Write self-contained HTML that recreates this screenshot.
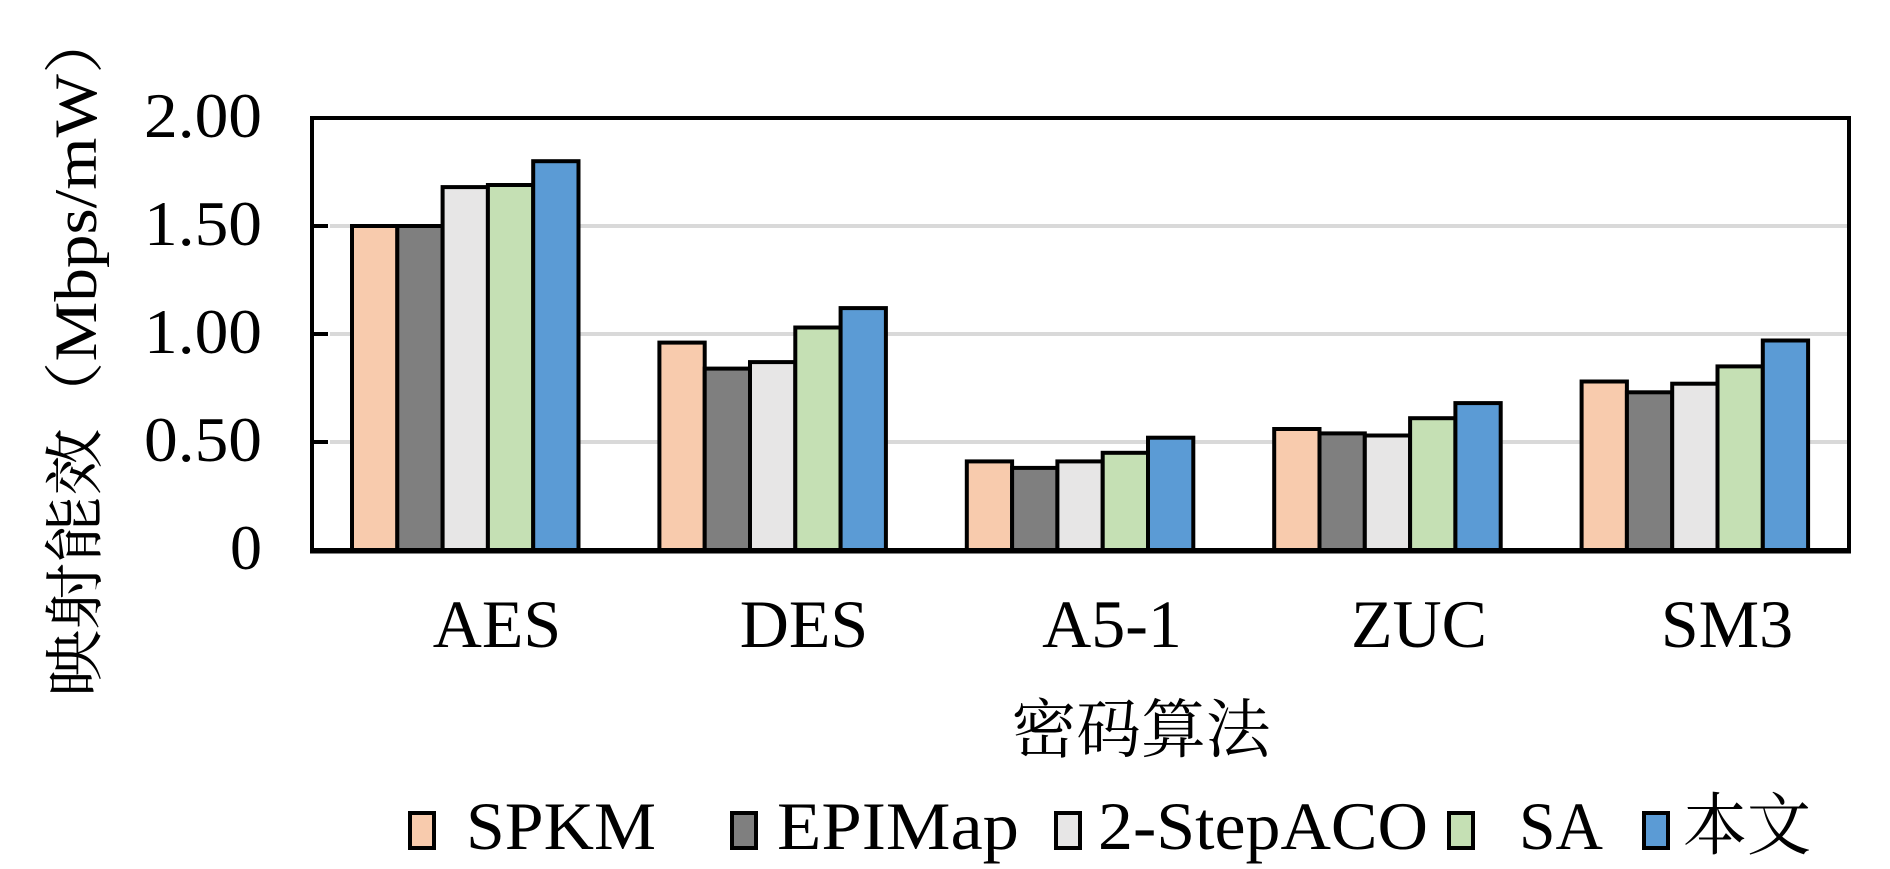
<!DOCTYPE html>
<html><head><meta charset="utf-8"><style>html,body{margin:0;padding:0;background:#fff}svg{display:block}</style></head>
<body>
<svg width="1890" height="869" viewBox="0 0 1890 869" xmlns="http://www.w3.org/2000/svg" font-family="'Liberation Serif','Noto Serif CJK SC',serif">
<g stroke="#d9d9d9" stroke-width="4">
<line x1="330" y1="226" x2="1847" y2="226"/>
<line x1="330" y1="334" x2="1847" y2="334"/>
<line x1="330" y1="442" x2="1847" y2="442"/>
</g>
<g stroke="#000" stroke-width="4">
<line x1="312" y1="226" x2="328" y2="226"/>
<line x1="312" y1="334" x2="328" y2="334"/>
<line x1="312" y1="442" x2="328" y2="442"/>
</g>
<g stroke="#000" stroke-width="4">
<rect x="352" y="226" width="45.3" height="324" fill="#f8cbad"/>
<rect x="397.3" y="226" width="45.3" height="324" fill="#7f7f7f"/>
<rect x="442.6" y="187.1" width="45.3" height="362.9" fill="#e7e6e6"/>
<rect x="487.9" y="185" width="45.3" height="365" fill="#c5e0b4"/>
<rect x="533.2" y="161.2" width="45.3" height="388.8" fill="#5b9bd5"/>

<rect x="659.4" y="342.6" width="45.3" height="207.4" fill="#f8cbad"/>
<rect x="704.7" y="368.6" width="45.3" height="181.4" fill="#7f7f7f"/>
<rect x="750" y="362.1" width="45.3" height="187.9" fill="#e7e6e6"/>
<rect x="795.3" y="327.5" width="45.3" height="222.5" fill="#c5e0b4"/>
<rect x="840.6" y="308.1" width="45.3" height="241.9" fill="#5b9bd5"/>

<rect x="966.8" y="461.4" width="45.3" height="88.6" fill="#f8cbad"/>
<rect x="1012.1" y="467.9" width="45.3" height="82.1" fill="#7f7f7f"/>
<rect x="1057.4" y="461.4" width="45.3" height="88.6" fill="#e7e6e6"/>
<rect x="1102.7" y="452.8" width="45.3" height="97.2" fill="#c5e0b4"/>
<rect x="1148" y="437.7" width="45.3" height="112.3" fill="#5b9bd5"/>

<rect x="1274.2" y="429" width="45.3" height="121" fill="#f8cbad"/>
<rect x="1319.5" y="433.4" width="45.3" height="116.6" fill="#7f7f7f"/>
<rect x="1364.8" y="435.5" width="45.3" height="114.5" fill="#e7e6e6"/>
<rect x="1410.1" y="418.2" width="45.3" height="131.8" fill="#c5e0b4"/>
<rect x="1455.4" y="403.1" width="45.3" height="146.9" fill="#5b9bd5"/>

<rect x="1581.6" y="381.5" width="45.3" height="168.5" fill="#f8cbad"/>
<rect x="1626.9" y="392.3" width="45.3" height="157.7" fill="#7f7f7f"/>
<rect x="1672.2" y="383.7" width="45.3" height="166.3" fill="#e7e6e6"/>
<rect x="1717.5" y="366.4" width="45.3" height="183.6" fill="#c5e0b4"/>
<rect x="1762.8" y="340.5" width="45.3" height="209.5" fill="#5b9bd5"/>
</g>
<rect x="312" y="118" width="1537" height="432" fill="none" stroke="#000" stroke-width="4"/>
<line x1="310" y1="551" x2="1851" y2="551" stroke="#000" stroke-width="5"/>
<g font-size="64" text-anchor="end" fill="#000">
<text x="262" y="137" textLength="118" lengthAdjust="spacingAndGlyphs">2.00</text>
<text x="262" y="245" textLength="118" lengthAdjust="spacingAndGlyphs">1.50</text>
<text x="262" y="353" textLength="118" lengthAdjust="spacingAndGlyphs">1.00</text>
<text x="262" y="461" textLength="118" lengthAdjust="spacingAndGlyphs">0.50</text>
<text x="262" y="569">0</text>
</g>
<g font-size="68" text-anchor="middle" fill="#000">
<text x="497" y="647">AES</text>
<text x="804" y="647">DES</text>
<text x="1112" y="647">A5-1</text>
<text x="1419" y="647">ZUC</text>
<text x="1727" y="647">SM3</text>
</g>
<text x="1141" y="752" font-size="64" text-anchor="middle" textLength="259" lengthAdjust="spacingAndGlyphs">密码算法</text>
<text transform="translate(96,352) rotate(-90)" font-size="60" text-anchor="middle" textLength="690" lengthAdjust="spacingAndGlyphs">映射能效（Mbps/mW）</text>
<g stroke="#000" stroke-width="4">
<rect x="410" y="813" width="24" height="35" fill="#f8cbad"/>
<rect x="732" y="813" width="24" height="35" fill="#7f7f7f"/>
<rect x="1056" y="813" width="24" height="35" fill="#e7e6e6"/>
<rect x="1449" y="813" width="24" height="35" fill="#c5e0b4"/>
<rect x="1644" y="813" width="24" height="35" fill="#5b9bd5"/>
</g>
<g font-size="68" fill="#000">
<text x="466" y="849" textLength="190" lengthAdjust="spacingAndGlyphs">SPKM</text>
<text x="777" y="849" textLength="242" lengthAdjust="spacingAndGlyphs">EPIMap</text>
<text x="1098" y="849" textLength="330" lengthAdjust="spacingAndGlyphs">2-StepACO</text>
<text x="1519" y="849" textLength="84" lengthAdjust="spacingAndGlyphs">SA</text>
<text x="1683" y="849" textLength="128" lengthAdjust="spacingAndGlyphs">本文</text>
</g>
</svg>
</body></html>
